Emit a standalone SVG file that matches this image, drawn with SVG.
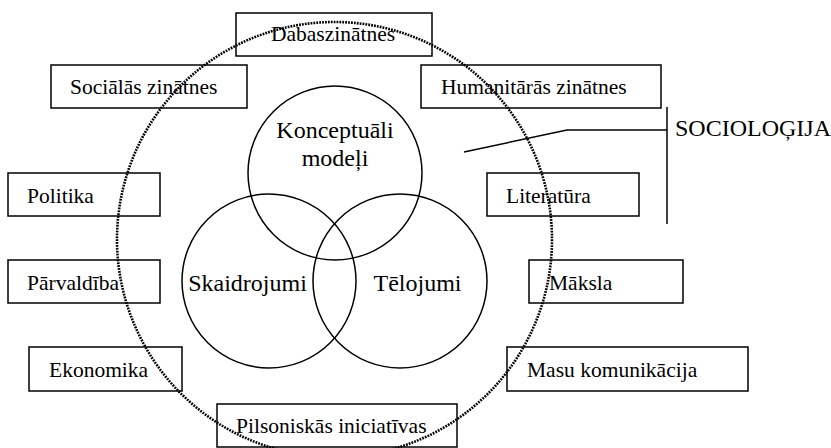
<svg xmlns="http://www.w3.org/2000/svg" width="831" height="448" viewBox="0 0 831 448">
<style>
.box{fill:none;stroke:#000;stroke-width:1.5}
.t{font-family:"Liberation Serif","DejaVu Serif","Times New Roman",serif;font-size:21.5px;fill:#000}
.c{fill:none;stroke:#000;stroke-width:1.5}
.ct{font-family:"Liberation Serif","DejaVu Serif","Times New Roman",serif;font-size:24px;fill:#000}
.ln{fill:none;stroke:#000;stroke-width:1.5}
.dot{fill:none;stroke:#000;stroke-width:2.6;stroke-dasharray:1.8 1.1}
</style>
<rect width="831" height="448" fill="#fff"/>
<g id="connectors">
<circle class="dot" cx="334.5" cy="239.5" r="217.5"/>
<line class="ln" x1="667" y1="107" x2="667" y2="224"/>
<polyline class="ln" points="464,152 567,130 667,130"/>
</g>
<g id="n-dabas"><rect class="box" x="236" y="13" width="196" height="43"/><text class="t" x="271" y="41">Dabaszinātnes</text></g>
<g id="n-social"><rect class="box" x="51" y="65" width="196" height="43"/><text class="t" x="70" y="94">Sociālās zinātnes</text></g>
<g id="n-human"><rect class="box" x="421" y="65" width="240" height="43"/><text class="t" x="441" y="94">Humanitārās zinātnes</text></g>
<g id="n-politika"><rect class="box" x="8" y="173" width="152" height="43"/><text class="t" x="27" y="203">Politika</text></g>
<g id="n-literatura"><rect class="box" x="487" y="173" width="152" height="43"/><text class="t" x="506" y="203">Literatūra</text></g>
<g id="n-parvaldiba"><rect class="box" x="8" y="260" width="152" height="43"/><text class="t" x="27" y="290">Pārvaldība</text></g>
<g id="n-maksla"><rect class="box" x="529" y="260" width="154" height="43"/><text class="t" x="549" y="290">Māksla</text></g>
<g id="n-ekonomika"><rect class="box" x="29" y="347" width="153" height="44"/><text class="t" x="49" y="377">Ekonomika</text></g>
<g id="n-masu"><rect class="box" x="507" y="347" width="241" height="44"/><text class="t" x="527" y="377">Masu komunikācija</text></g>
<g id="n-pilson"><rect class="box" x="217" y="404" width="240" height="43"/><text class="t" x="236" y="433">Pilsoniskās iniciatīvas</text></g>
<g id="n-konc"><circle class="c" cx="335" cy="173" r="87"/><text class="ct" x="335" y="138" text-anchor="middle">Konceptuāli</text><text class="ct" x="335" y="166" text-anchor="middle">modeļi</text></g>
<g id="n-skaid"><circle class="c" cx="269" cy="281" r="87"/><text class="ct" x="247.5" y="291" text-anchor="middle">Skaidrojumi</text></g>
<g id="n-telo"><circle class="c" cx="400" cy="281" r="87"/><text class="ct" x="417.5" y="291" text-anchor="middle">Tēlojumi</text></g>
<g id="n-sociologija"><text class="ct" x="675" y="136">SOCIOLOĢIJA</text></g>
</svg>
